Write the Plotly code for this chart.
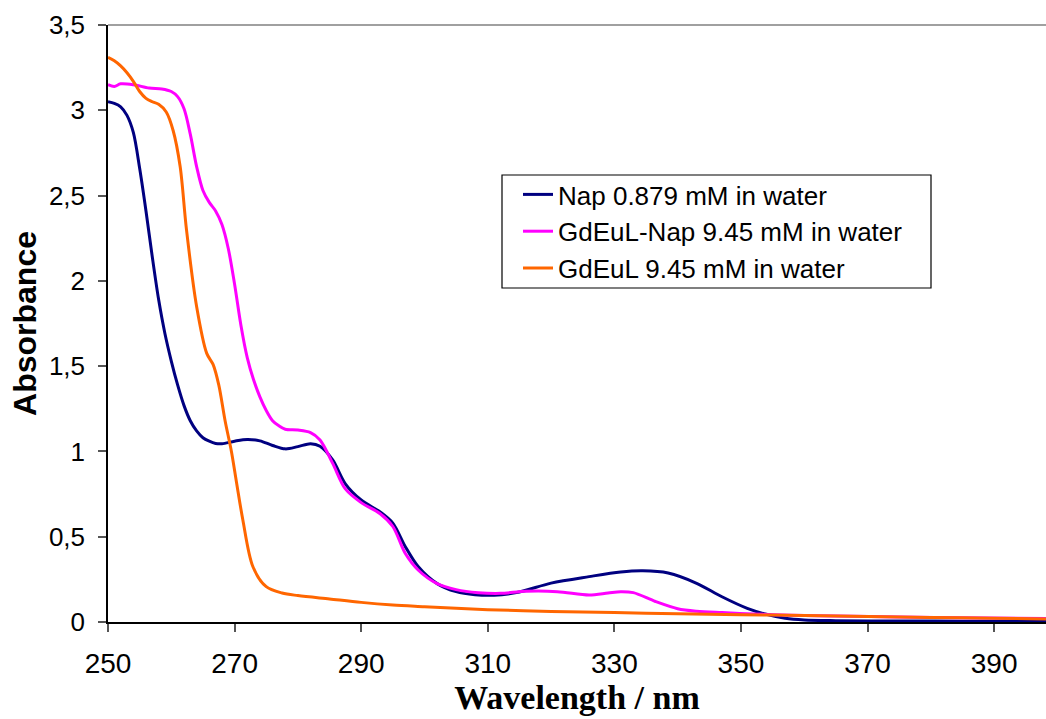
import plotly.graph_objects as go

# Absorption spectra (wavelength in nm, absorbance)
nap_wl = [250, 251, 252, 253, 254, 255, 256, 257, 258, 259, 260, 261, 262, 263, 264,
          265, 266, 267, 268, 270, 272, 274, 276, 278, 280, 282, 283.5, 285.5, 287.5,
          290, 293, 295, 297, 299, 302, 305, 308, 311, 315, 320, 326, 331, 334.5,
          338.5, 343, 347, 351, 354, 357, 360, 365, 375, 385, 398.2]
nap_abs = [3.05, 3.04, 3.02, 2.97, 2.87, 2.66, 2.41, 2.14, 1.89, 1.69, 1.53, 1.39, 1.27,
           1.18, 1.12, 1.08, 1.06, 1.047, 1.045, 1.06, 1.07, 1.062, 1.035, 1.015, 1.028,
           1.045, 1.03, 0.95, 0.81, 0.715, 0.645, 0.58, 0.44, 0.325, 0.225, 0.178, 0.16,
           0.157, 0.176, 0.228, 0.266, 0.293, 0.30, 0.287, 0.227, 0.148, 0.08, 0.045,
           0.022, 0.012, 0.008, 0.006, 0.005, 0.005]

gdeul_nap_wl = [250, 251, 252, 254, 256.5, 258.5, 260, 261, 262, 263, 264, 265, 266, 267,
                268, 269, 270, 271, 272, 273, 274, 275, 276, 277, 278, 280, 282, 283.5,
                285.5, 287.5, 290, 293, 295, 297, 299, 302, 305, 308.5, 312, 316, 321,
                326, 329, 331, 333, 336.5, 340, 343, 347, 352, 358, 365, 375, 385, 398.2]
gdeul_nap_abs = [3.15, 3.14, 3.155, 3.15, 3.13, 3.125, 3.11, 3.08, 3.01, 2.86, 2.67, 2.53,
                 2.46, 2.41, 2.33, 2.19, 1.98, 1.74, 1.55, 1.42, 1.32, 1.24, 1.18, 1.15,
                 1.13, 1.125, 1.11, 1.067, 0.93, 0.78, 0.70, 0.635, 0.56, 0.40, 0.305,
                 0.225, 0.19, 0.172, 0.168, 0.18, 0.178, 0.158, 0.17, 0.178, 0.172, 0.12,
                 0.078, 0.063, 0.055, 0.047, 0.04, 0.035, 0.03, 0.025, 0.02]

gdeul_wl = [250, 251, 252, 253, 254, 255, 256, 257, 258, 259.2, 260.3, 261.4, 262.4, 264,
            265.6, 266.6, 267.5, 268.5, 269.5, 270.3, 271.3, 272.9, 275, 277.5, 280, 285,
            290, 295, 300, 305, 310, 320, 330, 340, 350, 360, 370, 380, 390, 398.2]
gdeul_abs = [3.31, 3.29, 3.26, 3.22, 3.17, 3.11, 3.07, 3.05, 3.035, 2.99, 2.88, 2.67, 2.30,
             1.85, 1.575, 1.51, 1.39, 1.18, 1.0, 0.82, 0.60, 0.324, 0.207, 0.17, 0.155,
             0.135, 0.115, 0.10, 0.09, 0.08, 0.072, 0.062, 0.055, 0.048, 0.043, 0.038,
             0.032, 0.027, 0.022, 0.018]

series = [
    ("Nap 0.879 mM in water", nap_wl, nap_abs, "#000080"),
    ("GdEuL-Nap 9.45 mM in water", gdeul_nap_wl, gdeul_nap_abs, "#FF00FF"),
    ("GdEuL 9.45 mM in water", gdeul_wl, gdeul_abs, "#FF6600"),
]

x_ticks = [250, 270, 290, 310, 330, 350, 370, 390]
y_ticks = [0, 0.5, 1, 1.5, 2, 2.5, 3, 3.5]

# plot area in pixels: x 108..1046, y 25..622
PL, PR, PT, PB = 108, 1046, 25, 622
def px_x(p):
    return (p - PL) / (PR - PL)
def px_y(p):
    return (PB - p) / (PB - PT)

fig = go.Figure()
for name, wl, ab, color in series:
    fig.add_trace(go.Scatter(
        x=wl, y=ab, name=name, mode="lines",
        line=dict(color=color, width=3, shape="spline", smoothing=0.9),
    ))

fig.update_layout(
    width=1046, height=719,
    margin=dict(l=PL, r=0, t=PT, b=719 - PB),
    paper_bgcolor="white", plot_bgcolor="white",
    separators=", ",
    showlegend=True,
    legend=dict(
        x=px_x(518), y=px_y(171),
        xanchor="left", yanchor="top",
        borderwidth=0, bgcolor="rgba(0,0,0,0)",
        font=dict(family="Liberation Sans, Arial", size=26, color="black"),
        itemwidth=30, tracegroupgap=0,
    ),
    xaxis=dict(
        range=[250, 398.2], tickvals=x_ticks,
        showgrid=False, zeroline=False,
        showline=True, linecolor="black", linewidth=1.5,
        ticks="outside", ticklen=8, tickcolor="#555555", tickwidth=1.5,
        ticklabelstandoff=8,
        tickfont=dict(family="Liberation Sans, Arial", size=28, color="black"),
        title=dict(text="<b>Wavelength / nm</b>", standoff=6,
                   font=dict(family="Liberation Serif, Times New Roman", size=34, color="black")),
    ),
    yaxis=dict(
        range=[0, 3.5], tickvals=y_ticks,
        showgrid=False, zeroline=False,
        showline=True, linecolor="black", linewidth=1.5,
        ticks="outside", ticklen=8, tickcolor="#555555", tickwidth=1.5,
        ticklabelstandoff=8,
        tickfont=dict(family="Liberation Sans, Arial", size=26, color="black"),
        title=dict(text="<b>Absorbance</b>", standoff=3,
                   font=dict(family="Liberation Sans, Arial", size=32, color="black")),
    ),
    shapes=[
        dict(type="line", xref="paper", yref="paper", x0=0, x1=1, y0=1, y1=1,
             line=dict(color="#808080", width=1.5)),
        dict(type="rect", xref="paper", yref="paper",
             x0=px_x(502), x1=px_x(931), y0=px_y(288), y1=px_y(175),
             line=dict(color="black", width=1.2), fillcolor="rgba(0,0,0,0)"),
    ],
)

fig.write_html("out.html")
